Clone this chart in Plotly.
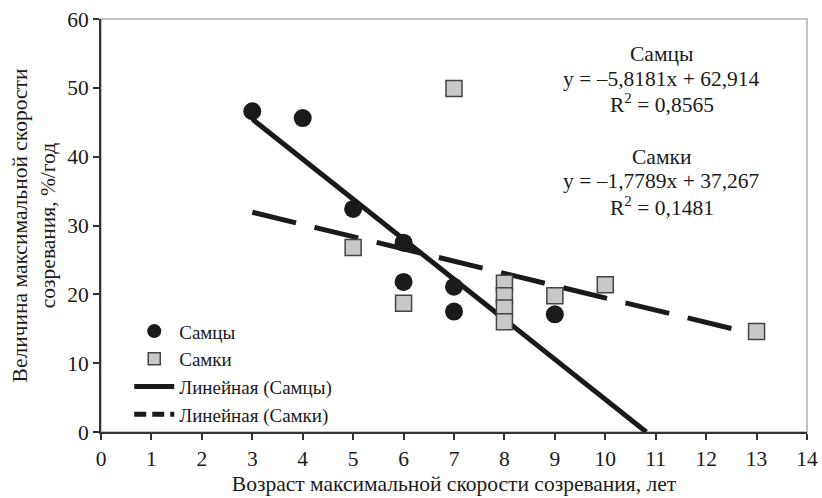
import plotly.graph_objects as go

# Data
male_x = [3, 4, 5, 6, 6, 7, 7, 9]
male_y = [46.6, 45.6, 32.4, 27.5, 21.8, 21.1, 17.5, 17.1]
female_x = [5, 6, 7, 8, 8, 8, 8, 9, 10, 13]
female_y = [26.8, 18.7, 49.9, 21.6, 19.8, 18.0, 16.0, 19.8, 21.4, 14.6]

male_fit = {"slope": -5.8181, "intercept": 62.914, "r2": "0,8565"}
female_fit = {"slope": -1.7789, "intercept": 37.267, "r2": "0,1481"}
trend_start = 3

x_ticks = list(range(0, 15))
y_ticks = list(range(0, 61, 10))

FONT = "Liberation Serif, Times New Roman, serif"
FS = 21.5

# trend lines from equation coefficients
mt_x = [trend_start, -male_fit["intercept"] / male_fit["slope"]]
mt_y = [male_fit["slope"] * v + male_fit["intercept"] for v in mt_x]
ft_x = [trend_start, max(female_x)]
ft_y = [female_fit["slope"] * v + female_fit["intercept"] for v in ft_x]

fig = go.Figure()
fig.add_trace(go.Scatter(x=mt_x, y=mt_y, mode="lines", name="Линейная (Самцы)",
                         line=dict(color="#1a1a1a", width=5), showlegend=False))
fig.add_trace(go.Scatter(x=ft_x, y=ft_y, mode="lines", name="Линейная (Самки)",
                         line=dict(color="#1a1a1a", width=5, dash="45px,19px"), showlegend=False))
fig.add_trace(go.Scatter(x=female_x, y=female_y, mode="markers", name="Самки",
                         marker=dict(symbol="square", size=16, color="#c8c8c8",
                                     line=dict(color="#444444", width=1.5)), showlegend=False))
fig.add_trace(go.Scatter(x=male_x, y=male_y, mode="markers", name="Самцы",
                         marker=dict(symbol="circle", size=18, color="#1a1a1a",
                                     line=dict(width=0)), showlegend=False))

# legend-only traces in the required order
fig.add_trace(go.Scatter(x=[None], y=[None], mode="markers", name="Самцы",
                         marker=dict(symbol="circle", size=14, color="#1a1a1a")))
fig.add_trace(go.Scatter(x=[None], y=[None], mode="markers", name="Самки",
                         marker=dict(symbol="square", size=12, color="#c8c8c8",
                                     line=dict(color="#444444", width=1.5))))
fig.add_trace(go.Scatter(x=[None], y=[None], mode="lines", name="Линейная (Самцы)",
                         line=dict(color="#1a1a1a", width=5)))
fig.add_trace(go.Scatter(x=[None], y=[None], mode="lines", name="Линейная (Самки)",
                         line=dict(color="#1a1a1a", width=5, dash="12px,6px")))

def eq_lines(label, fit):
    sign = "–" if fit["slope"] < 0 else ""
    s = f"{abs(fit['slope']):.4f}".replace(".", ",")
    b = f"{fit['intercept']:.3f}".replace(".", ",")
    return [label, f"y = {sign}{s}x + {b}", f"R<sup>2</sup> = {fit['r2']}"]

ann_x = 11.12
for lines, ys in ((eq_lines("Самцы", male_fit), [54.9, 51.3, 47.7]),
                  (eq_lines("Самки", female_fit), [40.0, 36.5, 32.7])):
    for t, yy in zip(lines, ys):
        fig.add_annotation(x=ann_x, y=yy, xref="x", yref="y", text=t,
                           showarrow=False, xanchor="center", yanchor="middle",
                           font=dict(family=FONT, size=FS, color="#1a1a1a"))

# gray frame on top / right
fig.add_shape(type="rect", xref="paper", yref="paper", x0=0, x1=1, y0=0, y1=1,
              line=dict(color="#b0b0b0", width=1.5), layer="below")

fig.update_layout(
    width=822, height=498,
    margin=dict(l=101, r=15, t=19, b=66, autoexpand=False),
    paper_bgcolor="white", plot_bgcolor="white",
    font=dict(family=FONT, size=FS, color="#1a1a1a"),
    legend=dict(x=0.04, y=0.29, xanchor="left", yanchor="top",
                bgcolor="rgba(255,255,255,0)", font=dict(family=FONT, size=19),
                itemwidth=40, tracegroupgap=0),
    xaxis=dict(range=[0, 14], tickvals=x_ticks, showgrid=False, zeroline=False,
               showline=True, linecolor="#333333", linewidth=2, automargin=False,
               ticks="outside", ticklen=6, tickcolor="#333333", tickwidth=1.5,
               tickfont=dict(family=FONT, size=FS),
               title=dict(text="Возраст максимальной скорости созревания, лет",
                          font=dict(family=FONT, size=FS), standoff=6)),
    yaxis=dict(range=[0, 60], tickvals=y_ticks, showgrid=False, zeroline=False,
               showline=True, linecolor="#333333", linewidth=2, automargin=False,
               ticks="outside", ticklen=6, tickcolor="#333333", tickwidth=1.5,
               tickfont=dict(family=FONT, size=FS),
               title=dict(text="Величина максимальной скорости<br>созревания, %/год",
                          font=dict(family=FONT, size=FS), standoff=6)),
)

fig.write_html("out.html")
